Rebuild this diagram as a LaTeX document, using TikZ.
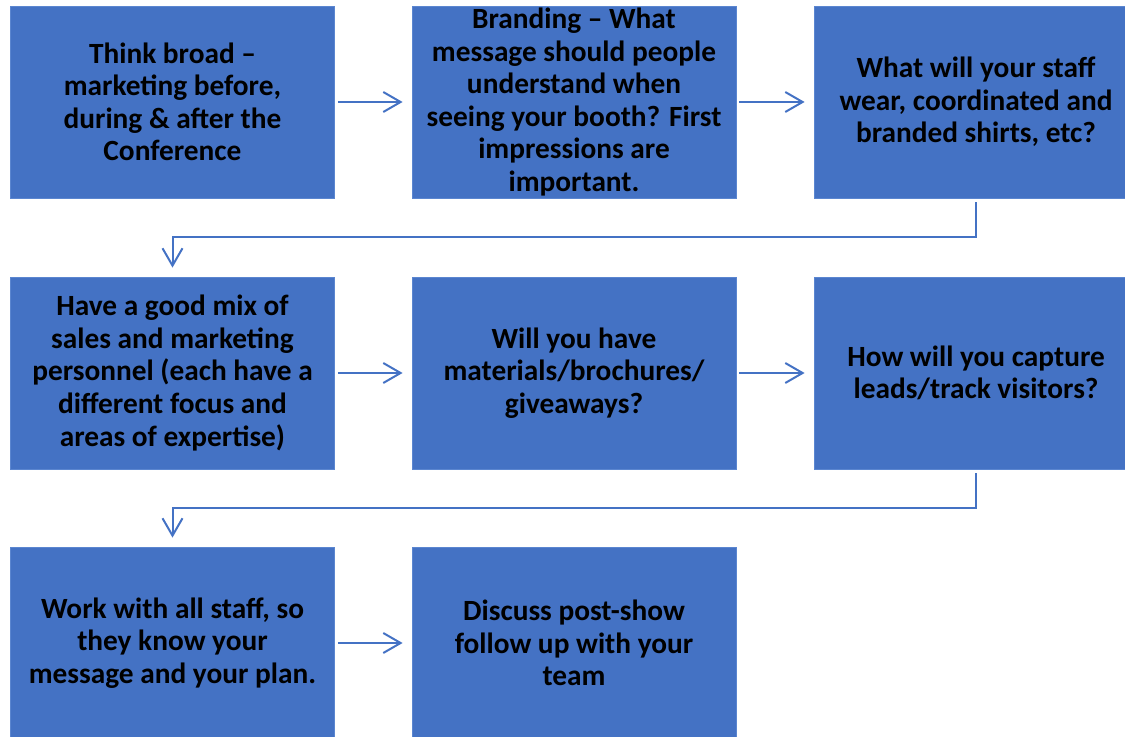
\documentclass[tikz,border=0pt]{standalone}
\usepackage{fontspec}
\setmainfont{Carlito}
\usetikzlibrary{arrows.meta}
\definecolor{boxblue}{HTML}{4472C4}
\definecolor{boxedge}{HTML}{5B86D0}
\tikzset{
  stepbox/.style={fill=boxblue, draw=boxedge, line width=0.6pt, minimum width=243pt, minimum height=144pt,
    inner sep=0pt, align=center, font=\fontsize{22pt}{24.4pt}\selectfont\bfseries, text=black},
  conn/.style={draw=boxblue, line width=1.5pt, -{Straight Barb[length=13pt,width=15pt,line width=1.5pt]}}
}
\begin{document}
\begin{tikzpicture}[x=0.75pt,y=-0.75pt]
\useasboundingbox (0,0) rectangle (1125,737);
\clip (0,0) rectangle (1125,737);
\node[stepbox] (b1) at (172.5,102) {Think broad –\\marketing before,\\during \& after the\\Conference};
\node[stepbox] (b2) at (574,102) {Branding – What\\message should people\\understand when\\seeing your booth? First\\impressions are\\important.};
\node[stepbox] (b3) at (976,102) {What will your staff\\wear, coordinated and\\branded shirts, etc?};
\node[stepbox] (b4) at (172.5,373) {Have a good mix of\\sales and marketing\\personnel (each have a\\different focus and\\areas of expertise)};
\node[stepbox] (b5) at (574,373) {Will you have\\materials/brochures/\\giveaways?};
\node[stepbox] (b6) at (976,373) {How will you capture\\leads/track visitors?};
\node[stepbox] (b7) at (172.5,643) {Work with all staff, so\\they know your\\message and your plan.};
\node[stepbox] (b8) at (574,643) {Discuss post-show\\follow up with your\\team};
\draw[conn] ([xshift=2.25pt]b1.east) -- ([xshift=-6.75pt]b2.west);
\draw[conn] ([xshift=2.25pt]b2.east) -- ([xshift=-6.75pt]b3.west);
\draw[conn] ([yshift=-3pt]b3.south) |- (172.5,237) -- ([yshift=6.75pt]b4.north);
\draw[conn] ([xshift=2.25pt]b4.east) -- ([xshift=-6.75pt]b5.west);
\draw[conn] ([xshift=2.25pt]b5.east) -- ([xshift=-6.75pt]b6.west);
\draw[conn] ([yshift=-3pt]b6.south) |- (172.5,508) -- ([yshift=6.75pt]b7.north);
\draw[conn] ([xshift=2.25pt]b7.east) -- ([xshift=-6.75pt]b8.west);
\end{tikzpicture}
\end{document}
